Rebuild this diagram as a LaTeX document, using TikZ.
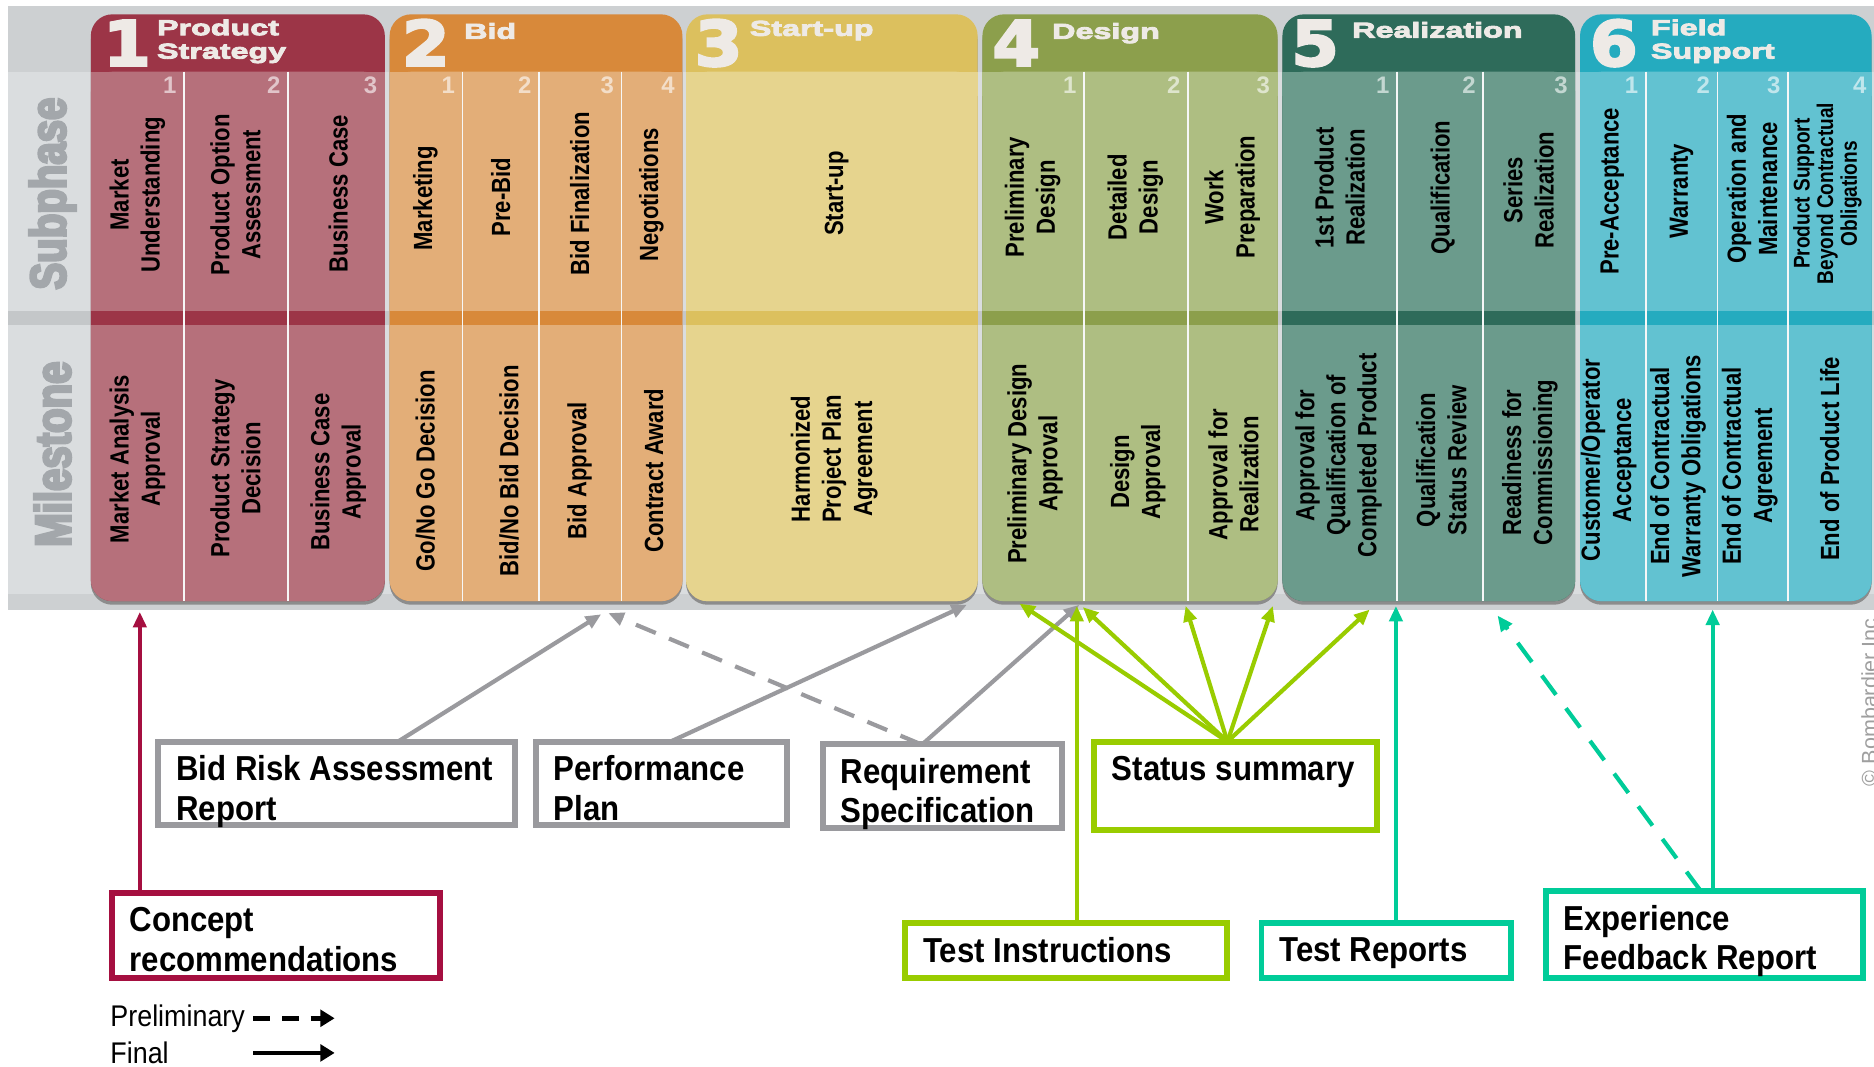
\documentclass[tikz,border=0pt]{standalone}
\usepackage{fontspec}
\setmainfont{Liberation Sans}
\newfontfamily\narrowfont[FakeStretch=0.84]{Liberation Sans}
\newfontfamily\boxfont[FakeStretch=0.9]{Liberation Sans}
\newfontfamily\widefont[FakeStretch=1.5,BoldFeatures={FakeBold=4}]{Liberation Sans}
\newfontfamily\digitfont[FakeStretch=1.1,BoldFeatures={FakeBold=4}]{DejaVu Sans}
\newfontfamily\labelfont[FakeStretch=0.8,BoldFeatures={FakeBold=5}]{Liberation Sans}
\usetikzlibrary{arrows.meta}

\definecolor{bgA}{HTML}{DADDDF}
\definecolor{bgB}{HTML}{CDD0D2}
\definecolor{bgC}{HTML}{C4C7C9}
\definecolor{labgray}{HTML}{A3A7AB}
\definecolor{digc}{HTML}{EEEAE6}
\definecolor{hA}{HTML}{9C3547}\definecolor{bA}{HTML}{B6707B}
\definecolor{hB}{HTML}{D8893A}\definecolor{bB}{HTML}{E3AE78}
\definecolor{hC}{HTML}{DCC05E}\definecolor{bC}{HTML}{E6D48E}
\definecolor{hD}{HTML}{8C9F4C}\definecolor{bD}{HTML}{AEBE82}
\definecolor{hE}{HTML}{2E6B5A}\definecolor{bE}{HTML}{6B9B8C}
\definecolor{hF}{HTML}{25ABBF}\definecolor{bF}{HTML}{62C2D1}
\definecolor{cgray}{HTML}{9A9A9E}
\definecolor{cgreen}{HTML}{99CC00}
\definecolor{cteal}{HTML}{00CC99}
\definecolor{ccrim}{HTML}{A50F40}

\newcommand\phasecol[4]{%
  \fill[black!45, rounded corners=9] (#1,16) rectangle (#2,506);
  \fill[#3, rounded corners=9] (#1,12) rectangle (#2,503);
  \fill[#4, rounded corners=9] (#1,60) rectangle (#2,503);
  \fill[#4] (#1,60) rectangle (#2,80);
  \fill[#3] (#1,260) rectangle (#2,272);
}
\newcommand\divline[1]{\draw[white!75!bgA, line width=0.7pt] (#1,60) -- (#1,503);}

\begin{document}
\begin{tikzpicture}[x=0.5pt,y=-0.5pt,
  subtxt/.style={rotate=90, align=center, inner sep=0, font=\narrowfont\bfseries\fontsize{11}{13}\selectfont},
  hdr/.style={anchor=north west, align=left, inner sep=0, text=digc, font=\widefont\bfseries\fontsize{9}{9.8}\selectfont},
  dig/.style={anchor=base west, inner sep=0, text=digc, font=\digitfont\bfseries\fontsize{26}{26}\selectfont},
  subnum/.style={anchor=north east, inner sep=0, text=white, text opacity=0.6, font=\bfseries\fontsize{10}{10}\selectfont},
  rowlab/.style={rotate=90, inner sep=0, text=labgray, font=\labelfont\bfseries\fontsize{21}{21}\selectfont},
  docbox/.style={draw, line width=2.5pt, fill=white, outer sep=0, inner sep=0},
  boxtxt/.style={anchor=north west, align=left, inner sep=0, font=\boxfont\bfseries\fontsize{14.5}{16.5}\selectfont},
  conn/.style={line width=1.75pt, -{Triangle[length=6.5pt,width=5.5pt]}},
  dashconn/.style={conn, dash pattern=on 9pt off 6pt},
  legtxt/.style={anchor=base west, inner sep=0, font=\boxfont\fontsize{12.5}{12.5}\selectfont},
]
\useasboundingbox (0,0) rectangle (1568,892);
\fill[white] (0,0) rectangle (1568,892);

% background band
\fill[bgA] (7,5) rectangle (1568,510);
\fill[bgB] (7,5) rectangle (1568,60);
\fill[bgC] (7,260) rectangle (1568,272);
\fill[bgB] (7,497) rectangle (1568,510);

\node[rowlab] (lsub) at (44,162) {Subphase};
\node[rowlab] (lmil) at (44,380) {Milestone};

% phase columns
\phasecol{76}{322}{hA}{bA}
\phasecol{326}{571}{hB}{bB}
\phasecol{574}{818}{hC}{bC}
\phasecol{822}{1069}{hD}{bD}
\phasecol{1073}{1318}{hE}{bE}
\phasecol{1322}{1566}{hF}{bF}

\divline{154}\divline{241}
\divline{387}\divline{451}\divline{520}
\divline{907}\divline{994}
\divline{1169}\divline{1241}
\divline{1377}\divline{1437}\divline{1496}

% headers
\node[dig] (d1) at (86,55) {1};
\node[hdr] (h1) at (131,16) {Product\\Strategy};
\node[dig] (d2) at (336,55) {2};
\node[hdr] (h2) at (388,19) {Bid};
\node[dig] (d3) at (581,55) {3};
\node[hdr] (h3) at (627,17) {Start-up};
\node[dig] (d4) at (830,55) {4};
\node[hdr] (h4) at (880,19) {Design};
\node[dig] (d5) at (1080,55) {5};
\node[hdr] (h5) at (1131,18) {Realization};
\node[dig] (d6) at (1330,55) {6};
\node[hdr] (h6) at (1381,16) {Field\\Support};

% subcolumn numbers
\node[subnum] (n11) at (148,64) {1};
\node[subnum] (n12) at (235,64) {2};
\node[subnum] (n13) at (316,64) {3};
\node[subnum] (n21) at (381,64) {1};
\node[subnum] (n22) at (445,64) {2};
\node[subnum] (n23) at (514,64) {3};
\node[subnum] (n24) at (565,64) {4};
\node[subnum] (n41) at (901,64) {1};
\node[subnum] (n42) at (988,64) {2};
\node[subnum] (n43) at (1063,64) {3};
\node[subnum] (n51) at (1163,64) {1};
\node[subnum] (n52) at (1235,64) {2};
\node[subnum] (n53) at (1312,64) {3};
\node[subnum] (n61) at (1371,64) {1};
\node[subnum] (n62) at (1431,64) {2};
\node[subnum] (n63) at (1490,64) {3};
\node[subnum] (n64) at (1562,64) {4};

% subphases
\node[subtxt] (s11) at (115,163) {Market\\Understanding};
\node[subtxt] (s12) at (197,163) {Product Option\\Assessment};
\node[subtxt] (s13) at (283,162) {Business Case};
\node[subtxt] (s21) at (356,166) {Marketing};
\node[subtxt] (s22) at (419,165) {Pre-Bid};
\node[subtxt] (s23) at (485,162) {Bid Finalization};
\node[subtxt] (s24) at (545,163) {Negotiations};
\node[subtxt] (s31) at (700,162) {Start-up};
\node[subtxt] (s41) at (864,165) {Preliminary\\Design};
\node[subtxt] (s42) at (950,165) {Detailed\\Design};
\node[subtxt] (s43) at (1031,165) {Work\\Preparation};
\node[subtxt] (s51) at (1121,157) {1st Product\\Realization};
\node[subtxt] (s52) at (1207,157) {Qualification};
\node[subtxt] (s53) at (1279,159) {Series\\Realization};
\node[subtxt] (s61) at (1349,160) {Pre-Acceptance};
\node[subtxt] (s62) at (1407,160) {Warranty};
\node[subtxt] (s63) at (1466,158) {Operation and\\Maintenance};
\node[subtxt, font=\narrowfont\bfseries\fontsize{9.5}{8}\selectfont] (s64) at (1529,162) {Product Support\\Beyond Contractual\\Obligations};

% milestones
\node[subtxt] (m11) at (115,384) {Market Analysis\\Approval};
\node[subtxt] (m12) at (197,392) {Product Strategy\\Decision};
\node[subtxt] (m13) at (283,395) {Business Case\\Approval};
\node[subtxt] (m21) at (356,394) {Go/No Go Decision};
\node[subtxt] (m22) at (426,394) {Bid/No Bid Decision};
\node[subtxt] (m23) at (485,394) {Bid Approval};
\node[subtxt] (m24) at (547,394) {Contract Award};
\node[subtxt] (m31) at (698,384) {Harmonized\\Project Plan\\Agreement};
\node[subtxt] (m41) at (866,388) {Preliminary Design\\Approval};
\node[subtxt] (m42) at (952,395) {Design\\Approval};
\node[subtxt] (m43) at (1032,397) {Approval for\\Realization};
\node[subtxt] (m51) at (1120,381) {Approval for\\Qualification of\\Completed Product};
\node[subtxt] (m52) at (1206,385) {Qualification\\Status Review};
\node[subtxt] (m53) at (1280,387) {Readiness for\\Commissioning};
\node[subtxt] (m61) at (1346,385) {Customer/Operator\\Acceptance};
\node[subtxt] (m62) at (1404,390) {End of Contractual\\Warranty Obligations};
\node[subtxt] (m63) at (1464,390) {End of Contractual\\Agreement};
\node[subtxt] (m64) at (1531,384) {End of Product Life};

% document boxes
\node[docbox, draw=cgray, minimum width=149pt, minimum height=35pt] (bra) at (281.5,655.5) {};
\node[docbox, draw=cgray, minimum width=105pt, minimum height=35pt] (pp) at (553.5,655.5) {};
\node[docbox, draw=cgray, minimum width=100pt, minimum height=35pt] (rs) at (788.5,657.5) {};
\node[docbox, draw=cgreen, minimum width=118.5pt, minimum height=37pt] (ss) at (1034,657.5) {};
\node[docbox, draw=ccrim, minimum width=137.5pt, minimum height=35.5pt] (cr) at (231,783) {};
\node[docbox, draw=cgreen, minimum width=134.5pt, minimum height=23pt] (ti) at (892,795.5) {};
\node[docbox, draw=cteal, minimum width=104.5pt, minimum height=23pt] (tr) at (1160,795.5) {};
\node[docbox, draw=cteal, minimum width=132.5pt, minimum height=36.5pt] (ef) at (1426,782) {};

\node[boxtxt] (bra-t) at ([xshift=7.25pt,yshift=-5.75pt]bra.north west) {Bid Risk Assessment\\Report};
\node[boxtxt] (pp-t) at ([xshift=7.25pt,yshift=-5.75pt]pp.north west) {Performance\\Plan};
\node[boxtxt] (rs-t) at ([xshift=7.25pt,yshift=-5.75pt]rs.north west) {Requirement\\Specification};
\node[boxtxt] (ss-t) at ([xshift=7.25pt,yshift=-5.75pt]ss.north west) {Status summary};
\node[boxtxt] (cr-t) at ([xshift=7.25pt,yshift=-5.75pt]cr.north west) {Concept\\recommendations};
\node[boxtxt] (ti-t) at ([xshift=7.25pt,yshift=-5.75pt]ti.north west) {Test Instructions};
\node[boxtxt] (tr-t) at ([xshift=7.25pt,yshift=-5.75pt]tr.north west) {Test Reports};
\node[boxtxt] (ef-t) at ([xshift=7.25pt,yshift=-5.75pt]ef.north west) {Experience\\Feedback Report};

% arrow targets
\coordinate (tcr) at (117,512);
\coordinate (tbra) at (503,514);
\coordinate (trsd) at (509,513);
\coordinate (tpp) at (809,506);
\coordinate (trs) at (903,506);
\coordinate (g1) at (853,505);
\coordinate (g2) at (906,508);
\coordinate (g3) at (992,507);
\coordinate (g4) at (1065,507);
\coordinate (g5) at (1146,510);
\coordinate (tti) at (901,507);
\coordinate (ttr) at (1168,507);
\coordinate (tefd) at (1253,515);
\coordinate (tef) at (1433,510);

% connectors
\draw[conn, ccrim] (cr.north -| tcr) -- (tcr);
\draw[conn, cgray] ([xshift=25.75pt]bra.north) -- (tbra);
\draw[conn, cgray] ([xshift=3.75pt]pp.north) -- (tpp);
\draw[dashconn, cgray] ([xshift=-9.25pt]rs.north) -- (trsd);
\draw[conn, cgray] ([xshift=-8.25pt]rs.north) -- (trs);
\foreach \g in {g1,g2,g3,g4,g5}{
  \draw[conn, cgreen] ([xshift=-3.5pt]ss.north) -- (\g);
}
\draw[conn, cgreen] (ti.north -| tti) -- (tti);
\draw[conn, cteal] (tr.north -| ttr) -- (ttr);
\draw[dashconn, cteal, dash pattern=on 10pt off 7pt] ([xshift=-1.5pt]ef.north) -- (tefd);
\draw[conn, cteal] (ef.north -| tef) -- (tef);

% legend
\node[legtxt] (lp) at (92,859) {Preliminary};
\node[legtxt] (lf) at (92,890) {Final};
\coordinate (lpe) at (280,852);
\coordinate (lfe) at (280,881);
\draw[line width=1.9pt, dash pattern=on 7pt off 5pt, -{Triangle[length=6pt,width=7pt]}] (212,852) -- (lpe);
\draw[line width=1.9pt, -{Triangle[length=6pt,width=7pt]}] (212,881) -- (lfe);

% copyright
\node[rotate=90, anchor=north, inner sep=0, text=gray!75, font=\fontsize{9}{9}\selectfont] (copy) at (1557,585) {© Bombardier Inc.};
\end{tikzpicture}
\end{document}
